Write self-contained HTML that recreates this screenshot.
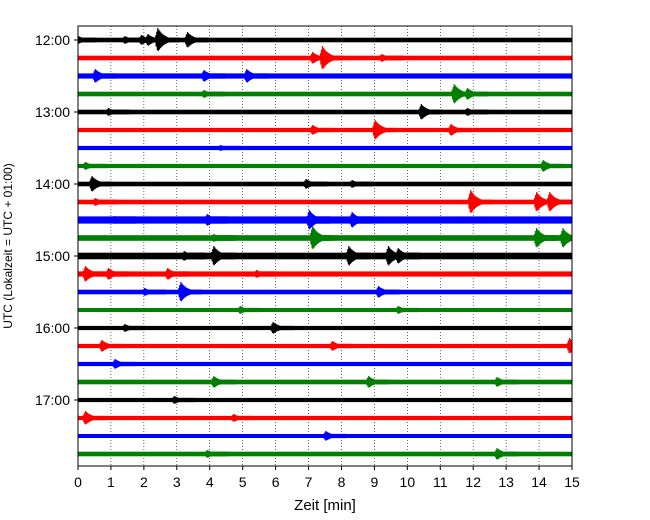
<!DOCTYPE html>
<html><head><meta charset="utf-8"><style>
html,body{margin:0;padding:0;background:#fff;}
svg{display:block;font-family:"Liberation Sans","DejaVu Sans",sans-serif;}
</style></head><body>
<svg id="chart" width="650" height="520" viewBox="0 0 650 520" xmlns="http://www.w3.org/2000/svg">
<defs><clipPath id="clip"><rect x="78" y="26" width="494" height="440"/></clipPath></defs>
<g id="grid"></g>
<g id="traces" clip-path="url(#clip)"></g>
<rect x="78" y="26" width="494" height="440" fill="none" stroke="#000" stroke-width="1"/>
<g id="xticks"></g>
<g id="yticks"></g>
<text x="325" y="510" font-size="15" text-anchor="middle">Zeit  [min]</text>
<text transform="translate(12,246) rotate(-90)" font-size="12" text-anchor="middle">UTC (Lokalzeit = UTC + 01:00)</text>
</svg>
<script>
const xTicks = [0,1,2,3,4,5,6,7,8,9,10,11,12,13,14,15];
const yTickLabels = ["12:00","13:00","14:00","15:00","16:00","17:00"];
const yTickRows = [0,4,8,12,16,20];
const rowColors = ["#000000","#ff0000","#0000ff","#008000"];
const rowBase = [2.3,2.3,2.6,2.3,2.3,2.1,2.1,2.1,2.3,2.3,3.6,2.8,3.3,2.6,2.3,2.0,2.1,2.1,2.1,2.3,2.1,2.1,2.0,2.3];
const rowEvents = [
 [[0,6],[1.5,4],[2.0,5],[2.2,6],[2.5,12],[3.4,8]],
 [[7.2,6],[7.5,12],[9.3,4]],
 [[0.6,7],[3.9,6],[5.2,7]],
 [[3.9,4],[11.5,10],[11.9,6]],
 [[1.0,4],[10.5,8],[11.9,4]],
 [[7.2,5],[9.1,10],[11.4,6]],
 [[4.4,3]],
 [[0.3,4],[14.2,6]],
 [[0.5,8],[7.0,5],[8.4,4]],
 [[0.6,4],[12.0,12],[14.0,10],[14.4,10]],
 [[1.2,4],[4.0,6],[7.1,10],[8.4,8]],
 [[4.2,4],[7.2,12],[14.0,10],[14.8,10]],
 [[3.3,5],[4.2,10],[8.3,10],[9.5,10],[9.8,8]],
 [[0.3,8],[1.0,6],[2.8,6],[5.5,4]],
 [[2.1,4],[3.2,10],[9.2,6]],
 [[5.0,4],[9.8,4]],
 [[1.5,4],[6.0,6]],
 [[0.8,6],[7.8,5],[15.0,8]],
 [[1.2,5]],
 [[4.2,6],[8.9,6],[12.8,5]],
 [[3.0,4]],
 [[0.3,7],[4.8,4]],
 [[7.6,5]],
 [[4.0,4],[12.8,6]]
];
const NS="http://www.w3.org/2000/svg";
const X0=78,X1=572,ROW0=40,ROWH=18;
function xs(m){return X0+(X1-X0)*m/15;}
function ys(r){return ROW0+ROWH*r;}
function mk(tag,attrs,parent){const e=document.createElementNS(NS,tag);for(const k in attrs)e.setAttribute(k,attrs[k]);parent.appendChild(e);return e;}
const grid=document.getElementById('grid'),tr=document.getElementById('traces'),xt=document.getElementById('xticks'),yt=document.getElementById('yticks');
xTicks.forEach(t=>{
  if(t>0&&t<15){const g=mk('line',{x1:xs(t),x2:xs(t),y1:26,y2:466,stroke:'#000','stroke-width':0.6,'stroke-dasharray':'1,2'},grid);
  
  }
  const l=mk('line',{x1:xs(t),x2:xs(t),y1:466,y2:470,stroke:'#000'},xt);
  
  
  const tx=mk('text',{x:xs(t),y:487,'font-size':14,'text-anchor':'middle'},xt);tx.textContent=t;
  
  
});
yTickRows.forEach((r,i)=>{
  const l=mk('line',{x1:74,x2:78,y1:ys(r),y2:ys(r),stroke:'#000'},yt);
  
  
  const tx=mk('text',{x:70,y:ys(r)+5,'font-size':14,'text-anchor':'end'},yt);tx.textContent=yTickLabels[i];
  
  
});
rowBase.forEach((b,r)=>{
  const c=rowColors[r%4],y=ys(r);
  const g=mk('g',{},tr);
  
  
  mk('rect',{x:X0,y:y-b,width:X1-X0,height:2*b,fill:c},g);
  rowEvents[r].forEach(ev=>{
    const cx=xs(ev[0]),a=ev[1];let d='';
    const n=44,w=xs(0.7)-X0;
    for(let k=0;k<=n;k++){
      const px=cx-w*0.2+w*k/n;
      const env=a*(k<4?(0.4+0.15*k):Math.exp(-(k-4)/(n*0.3)));
      const py=y+(k%2?1:-1)*Math.max(env,b);
      d+=(k?'L':'M')+px.toFixed(1)+','+py.toFixed(1);
    }
    const p=mk('path',{d:d,fill:'none',stroke:c,'stroke-width':1.1},g);
    
    
  });
});
</script>
</body></html>
